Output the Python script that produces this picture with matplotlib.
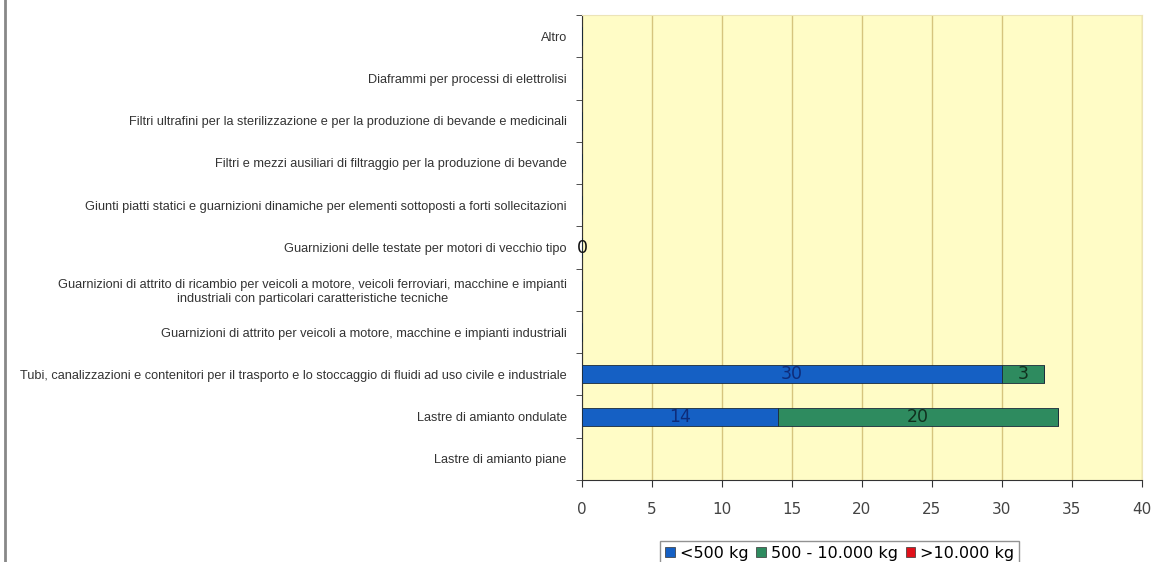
import numpy as np
import matplotlib.pyplot as plt
from matplotlib.lines import Line2D
from matplotlib.patches import Patch

plt.rcParams['font.family'] = ['Liberation Sans', 'DejaVu Sans']

# categorie dal basso verso l'alto
categorie = [
    "Lastre di amianto piane",
    "Lastre di amianto ondulate",
    "Tubi, canalizzazioni e contenitori per il trasporto e lo stoccaggio di fluidi ad uso civile e industriale",
    "Guarnizioni di attrito per veicoli a motore, macchine e impianti industriali",
    "Guarnizioni di attrito di ricambio per veicoli a motore, veicoli ferroviari, macchine e impianti\nindustriali con particolari caratteristiche tecniche",
    "Guarnizioni delle testate per motori di vecchio tipo",
    "Giunti piatti statici e guarnizioni dinamiche per elementi sottoposti a forti sollecitazioni",
    "Filtri e mezzi ausiliari di filtraggio per la produzione di bevande",
    "Filtri ultrafini per la sterilizzazione e per la produzione di bevande e medicinali",
    "Diaframmi per processi di elettrolisi",
    "Altro",
]
meno_500 = [np.nan, 14, 30, np.nan, np.nan, 0, np.nan, np.nan, np.nan, np.nan, np.nan]
da_500_10000 = [np.nan, 20, 3, np.nan, np.nan, np.nan, np.nan, np.nan, np.nan, np.nan, np.nan]
oltre_10000 = [np.nan] * 11
serie = ["<500 kg", "500 - 10.000 kg", ">10.000 kg"]
colori = ["#1560C4", "#2E8B5F", "#E0101A"]
colori_testo = ["#0E2C7A", "#10301E", "#400000"]

fig = plt.figure(figsize=(11.55, 5.62), dpi=100)
ax = fig.add_axes([0.5039, 0.1459, 0.4848, 0.8274])
ax.set_facecolor("#FFFCC6")

y = np.arange(len(categorie))
left = np.zeros(len(categorie))
for vals, col, tcol in zip([meno_500, da_500_10000, oltre_10000], colori, colori_testo):
    v = np.array(vals, dtype=float)
    ax.barh(y, np.nan_to_num(v), left=left, height=0.43, color=col,
            edgecolor="#1a2a3a", linewidth=0.6, zorder=3)
    for yi, (l, val) in enumerate(zip(left, v)):
        if not np.isnan(val):
            c = tcol if val > 0 else "#111111"
            ax.text(l + val / 2, yi, f"{val:g}", ha="center", va="center",
                    fontsize=12.5, color=c, family="DejaVu Sans", zorder=4)
    left = left + np.nan_to_num(v)

ax.set_xlim(0, 40)
ax.set_ylim(-0.5, len(categorie) - 0.5)
ax.set_xticks(range(0, 41, 5))
ax.tick_params(axis="x", labelsize=11, colors="#333333", length=5, pad=11)
for t in ax.get_xticklabels():
    t.set_family("DejaVu Sans")
    t.set_color("#444444")
ax.set_yticks(y)
ax.set_yticklabels(categorie, fontsize=9.2, color="#333333", ha="right",
                   multialignment="center")
ax.tick_params(axis="y", length=0, pad=11)
ax.set_yticks(np.arange(-0.5, len(categorie), 1), minor=True)
ax.tick_params(axis="y", which="minor", length=4, color="#333333")
ax.xaxis.grid(True, color="#D6C47E", linewidth=1.0, zorder=1)
ax.set_axisbelow(True)
for s in ["top", "right"]:
    ax.spines[s].set_color("#ECE4B8")
for s in ["left", "bottom"]:
    ax.spines[s].set_color("#333333")

# bordo sinistro
fig.add_artist(Line2D([0.004, 0.004], [0, 1], color="#888888", linewidth=2,
                      transform=fig.transFigure))

handles = [Patch(facecolor=c, edgecolor="#333333", linewidth=0.5) for c in colori]
leg = fig.legend(handles, serie, loc="upper center", bbox_to_anchor=(0.727, 0.052),
                 ncol=3, frameon=True, fancybox=False, edgecolor="#777777",
                 handlelength=0.6, handleheight=0.6, handletextpad=0.3, columnspacing=0.5,
                 borderpad=0.3, prop={"family": "DejaVu Sans", "size": 11.5})
leg.get_frame().set_linewidth(1.0)

fig.savefig("out.png", dpi=100)
